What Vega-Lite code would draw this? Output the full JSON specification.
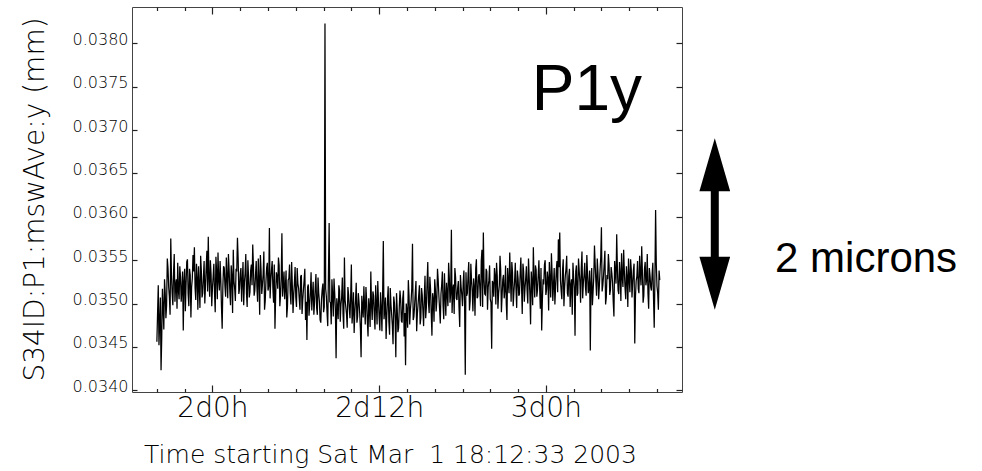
{
  "$schema": "https://vega.github.io/schema/vega-lite/v6.json",
  "autosize": "none",
  "width": 550,
  "height": 385,
  "padding": {"left": 132, "top": 7, "right": 300, "bottom": 79},
  "background": "white",
  "config": {"view": {"stroke": "#444", "strokeWidth": 1}, "axis": {"ticks": true, "tickWidth": 1.2, "tickColor": "#222"}},
  "datasets": {
    "series": [
      {"t":44.0,"v":0.03456},{"t":44.1,"v":0.03521},{"t":44.2,"v":0.03478},{"t":44.3,"v":0.03423},{"t":44.4,"v":0.03517},{"t":44.5,"v":0.03470},{"t":44.6,"v":0.03512},
      {"t":44.7,"v":0.03498},{"t":44.8,"v":0.03541},{"t":44.9,"v":0.03508},{"t":45.0,"v":0.03575},{"t":45.1,"v":0.03512},{"t":45.2,"v":0.03536},{"t":45.3,"v":0.03502},{"t":45.4,"v":0.03528},{"t":45.5,"v":0.03547},{"t":45.6,"v":0.03505},
      {"t":45.7,"v":0.03531},{"t":45.8,"v":0.03516},{"t":45.9,"v":0.03469},{"t":46.0,"v":0.03540},{"t":46.1,"v":0.03522},{"t":46.2,"v":0.03551},{"t":46.3,"v":0.03497},{"t":46.4,"v":0.03533},{"t":46.5,"v":0.03519},{"t":46.6,"v":0.03556},
      {"t":46.7,"v":0.03565},{"t":46.8,"v":0.03504},{"t":46.9,"v":0.03529},{"t":47.0,"v":0.03543},{"t":47.1,"v":0.03495},{"t":47.2,"v":0.03538},{"t":47.3,"v":0.03512},{"t":47.4,"v":0.03549},{"t":47.5,"v":0.03521},{"t":47.6,"v":0.03561},
      {"t":47.7,"v":0.03577},{"t":47.8,"v":0.03508},{"t":47.9,"v":0.03534},{"t":48.0,"v":0.03518},{"t":48.1,"v":0.03546},{"t":48.2,"v":0.03490},{"t":48.3,"v":0.03537},{"t":48.4,"v":0.03559},{"t":48.5,"v":0.03515},{"t":48.6,"v":0.03528},
      {"t":48.7,"v":0.03471},{"t":48.8,"v":0.03543},{"t":48.9,"v":0.03520},{"t":49.0,"v":0.03553},{"t":49.1,"v":0.03506},{"t":49.2,"v":0.03539},{"t":49.3,"v":0.03498},{"t":49.4,"v":0.03531},{"t":49.5,"v":0.03562},{"t":49.6,"v":0.03517},
      {"t":49.7,"v":0.03540},{"t":49.8,"v":0.03576},{"t":49.9,"v":0.03511},{"t":50.0,"v":0.03535},{"t":50.1,"v":0.03502},{"t":50.2,"v":0.03548},{"t":50.3,"v":0.03524},{"t":50.4,"v":0.03557},{"t":50.5,"v":0.03496},{"t":50.6,"v":0.03530},
      {"t":50.7,"v":0.03513},{"t":50.8,"v":0.03545},{"t":50.9,"v":0.03568},{"t":51.0,"v":0.03509},{"t":51.1,"v":0.03533},{"t":51.2,"v":0.03519},{"t":51.3,"v":0.03552},{"t":51.4,"v":0.03487},{"t":51.5,"v":0.03538},{"t":51.6,"v":0.03522},
      {"t":51.7,"v":0.03560},{"t":51.8,"v":0.03503},{"t":51.9,"v":0.03541},{"t":52.0,"v":0.03515},{"t":52.1,"v":0.03587},{"t":52.2,"v":0.03526},{"t":52.3,"v":0.03549},{"t":52.4,"v":0.03501},{"t":52.5,"v":0.03471},{"t":52.6,"v":0.03536},
      {"t":52.7,"v":0.03517},{"t":52.8,"v":0.03544},{"t":52.9,"v":0.03509},{"t":53.0,"v":0.03581},{"t":53.1,"v":0.03522},{"t":53.2,"v":0.03505},{"t":53.3,"v":0.03538},{"t":53.4,"v":0.03496},{"t":53.5,"v":0.03529},{"t":53.6,"v":0.03512},
      {"t":53.7,"v":0.03548},{"t":53.8,"v":0.03489},{"t":53.9,"v":0.03524},{"t":54.0,"v":0.03507},{"t":54.1,"v":0.03541},{"t":54.2,"v":0.03518},{"t":54.3,"v":0.03493},{"t":54.4,"v":0.03533},{"t":54.5,"v":0.03504},{"t":54.6,"v":0.03527},
      {"t":54.7,"v":0.03481},{"t":54.8,"v":0.03458},{"t":54.9,"v":0.03522},{"t":55.0,"v":0.03499},{"t":55.1,"v":0.03536},{"t":55.2,"v":0.03510},{"t":55.3,"v":0.03487},{"t":55.4,"v":0.03519},{"t":55.5,"v":0.03495},{"t":55.6,"v":0.03530},
      {"t":55.7,"v":0.03502},{"t":55.8,"v":0.03478},{"t":55.9,"v":0.03516},{"t":56.0,"v":0.03490},{"t":56.1,"v":0.03823},{"t":56.2,"v":0.03508},{"t":56.3,"v":0.03474},{"t":56.4,"v":0.03593},{"t":56.5,"v":0.03501},{"t":56.6,"v":0.03528},
      {"t":56.7,"v":0.03485},{"t":56.8,"v":0.03512},{"t":56.9,"v":0.03437},{"t":57.0,"v":0.03495},{"t":57.1,"v":0.03521},{"t":57.2,"v":0.03479},{"t":57.3,"v":0.03507},{"t":57.4,"v":0.03488},{"t":57.5,"v":0.03553},{"t":57.6,"v":0.03496},
      {"t":57.7,"v":0.03472},{"t":57.8,"v":0.03510},{"t":57.9,"v":0.03483},{"t":58.0,"v":0.03545},{"t":58.1,"v":0.03491},{"t":58.2,"v":0.03466},{"t":58.3,"v":0.03504},{"t":58.4,"v":0.03478},{"t":58.5,"v":0.03512},{"t":58.6,"v":0.03489},
      {"t":58.7,"v":0.03438},{"t":58.8,"v":0.03497},{"t":58.9,"v":0.03520},{"t":59.0,"v":0.03476},{"t":59.1,"v":0.03503},{"t":59.2,"v":0.03462},{"t":59.3,"v":0.03494},{"t":59.4,"v":0.03537},{"t":59.5,"v":0.03481},{"t":59.6,"v":0.03509},
      {"t":59.7,"v":0.03470},{"t":59.8,"v":0.03499},{"t":59.9,"v":0.03526},{"t":60.0,"v":0.03484},{"t":60.1,"v":0.03513},{"t":60.2,"v":0.03468},{"t":60.3,"v":0.03572},{"t":60.4,"v":0.03492},{"t":60.5,"v":0.03459},{"t":60.6,"v":0.03505},
      {"t":60.7,"v":0.03479},{"t":60.8,"v":0.03518},{"t":60.9,"v":0.03487},{"t":61.0,"v":0.03453},{"t":61.1,"v":0.03501},{"t":61.2,"v":0.03438},{"t":61.3,"v":0.03494},{"t":61.4,"v":0.03472},{"t":61.5,"v":0.03515},{"t":61.6,"v":0.03480},
      {"t":61.7,"v":0.03506},{"t":61.8,"v":0.03462},{"t":61.9,"v":0.03429},{"t":62.0,"v":0.03491},{"t":62.1,"v":0.03527},{"t":62.2,"v":0.03476},{"t":62.3,"v":0.03503},{"t":62.4,"v":0.03569},{"t":62.5,"v":0.03485},{"t":62.6,"v":0.03512},
      {"t":62.7,"v":0.03468},{"t":62.8,"v":0.03499},{"t":62.9,"v":0.03521},{"t":63.0,"v":0.03483},{"t":63.1,"v":0.03510},{"t":63.2,"v":0.03474},{"t":63.3,"v":0.03532},{"t":63.4,"v":0.03496},{"t":63.5,"v":0.03548},{"t":63.6,"v":0.03489},
      {"t":63.7,"v":0.03517},{"t":63.8,"v":0.03463},{"t":63.9,"v":0.03505},{"t":64.0,"v":0.03528},{"t":64.1,"v":0.03491},{"t":64.2,"v":0.03540},{"t":64.3,"v":0.03509},{"t":64.4,"v":0.03477},{"t":64.5,"v":0.03521},{"t":64.6,"v":0.03498},
      {"t":64.7,"v":0.03535},{"t":64.8,"v":0.03486},{"t":64.9,"v":0.03512},{"t":65.0,"v":0.03547},{"t":65.1,"v":0.03501},{"t":65.2,"v":0.03585},{"t":65.3,"v":0.03515},{"t":65.4,"v":0.03488},{"t":65.5,"v":0.03531},{"t":65.6,"v":0.03504},
      {"t":65.7,"v":0.03526},{"t":65.8,"v":0.03473},{"t":65.9,"v":0.03519},{"t":66.0,"v":0.03497},{"t":66.1,"v":0.03538},{"t":66.2,"v":0.03418},{"t":66.3,"v":0.03509},{"t":66.4,"v":0.03533},{"t":66.5,"v":0.03492},{"t":66.6,"v":0.03546},
      {"t":66.7,"v":0.03514},{"t":66.8,"v":0.03529},{"t":66.9,"v":0.03486},{"t":67.0,"v":0.03551},{"t":67.1,"v":0.03508},{"t":67.2,"v":0.03534},{"t":67.3,"v":0.03497},{"t":67.4,"v":0.03562},{"t":67.5,"v":0.03582},{"t":67.6,"v":0.03511},
      {"t":67.7,"v":0.03540},{"t":67.8,"v":0.03493},{"t":67.9,"v":0.03527},{"t":68.0,"v":0.03505},{"t":68.1,"v":0.03448},{"t":68.2,"v":0.03523},{"t":68.3,"v":0.03541},{"t":68.4,"v":0.03499},{"t":68.5,"v":0.03532},{"t":68.6,"v":0.03512},
      {"t":68.7,"v":0.03555},{"t":68.8,"v":0.03490},{"t":68.9,"v":0.03528},{"t":69.0,"v":0.03506},{"t":69.1,"v":0.03544},{"t":69.2,"v":0.03481},{"t":69.3,"v":0.03524},{"t":69.4,"v":0.03559},{"t":69.5,"v":0.03502},{"t":69.6,"v":0.03536},
      {"t":69.7,"v":0.03513},{"t":69.8,"v":0.03547},{"t":69.9,"v":0.03495},{"t":70.0,"v":0.03529},{"t":70.1,"v":0.03511},{"t":70.2,"v":0.03553},{"t":70.3,"v":0.03488},{"t":70.4,"v":0.03537},{"t":70.5,"v":0.03518},{"t":70.6,"v":0.03543},
      {"t":70.7,"v":0.03500},{"t":70.8,"v":0.03531},{"t":70.9,"v":0.03476},{"t":71.0,"v":0.03524},{"t":71.1,"v":0.03565},{"t":71.2,"v":0.03507},{"t":71.3,"v":0.03539},{"t":71.4,"v":0.03516},{"t":71.5,"v":0.03550},{"t":71.6,"v":0.03494},
      {"t":71.7,"v":0.03469},{"t":71.8,"v":0.03528},{"t":71.9,"v":0.03545},{"t":72.0,"v":0.03510},{"t":72.1,"v":0.03537},{"t":72.2,"v":0.03492},{"t":72.3,"v":0.03526},{"t":72.4,"v":0.03558},{"t":72.5,"v":0.03503},{"t":72.6,"v":0.03541},
      {"t":72.7,"v":0.03519},{"t":72.8,"v":0.03549},{"t":72.9,"v":0.03574},{"t":73.0,"v":0.03582},{"t":73.1,"v":0.03515},{"t":73.2,"v":0.03538},{"t":73.3,"v":0.03497},{"t":73.4,"v":0.03532},{"t":73.5,"v":0.03555},{"t":73.6,"v":0.03508},
      {"t":73.7,"v":0.03540},{"t":73.8,"v":0.03521},{"t":73.9,"v":0.03487},{"t":74.0,"v":0.03530},{"t":74.1,"v":0.03463},{"t":74.2,"v":0.03544},{"t":74.3,"v":0.03512},{"t":74.4,"v":0.03538},{"t":74.5,"v":0.03501},{"t":74.6,"v":0.03560},
      {"t":74.7,"v":0.03524},{"t":74.8,"v":0.03547},{"t":74.9,"v":0.03509},{"t":75.0,"v":0.03535},{"t":75.1,"v":0.03519},{"t":75.2,"v":0.03446},{"t":75.3,"v":0.03541},{"t":75.4,"v":0.03514},{"t":75.5,"v":0.03567},{"t":75.6,"v":0.03526},
      {"t":75.7,"v":0.03552},{"t":75.8,"v":0.03505},{"t":75.9,"v":0.03538},{"t":76.0,"v":0.03588},{"t":76.1,"v":0.03521},{"t":76.2,"v":0.03546},{"t":76.3,"v":0.03499},{"t":76.4,"v":0.03533},{"t":76.5,"v":0.03557},{"t":76.6,"v":0.03510},
      {"t":76.7,"v":0.03542},{"t":76.8,"v":0.03524},{"t":76.9,"v":0.03485},{"t":77.0,"v":0.03536},{"t":77.1,"v":0.03580},{"t":77.2,"v":0.03515},{"t":77.3,"v":0.03548},{"t":77.4,"v":0.03503},{"t":77.5,"v":0.03531},{"t":77.6,"v":0.03562},
      {"t":77.7,"v":0.03518},{"t":77.8,"v":0.03543},{"t":77.9,"v":0.03496},{"t":78.0,"v":0.03529},{"t":78.1,"v":0.03551},{"t":78.2,"v":0.03507},{"t":78.3,"v":0.03538},{"t":78.4,"v":0.03454},{"t":78.5,"v":0.03526},{"t":78.6,"v":0.03549},
      {"t":78.7,"v":0.03512},{"t":78.8,"v":0.03535},{"t":78.9,"v":0.03566},{"t":79.0,"v":0.03501},{"t":79.1,"v":0.03540},{"t":79.2,"v":0.03521},{"t":79.3,"v":0.03557},{"t":79.4,"v":0.03494},{"t":79.5,"v":0.03532},{"t":79.6,"v":0.03515},
      {"t":79.7,"v":0.03547},{"t":79.8,"v":0.03472},{"t":79.9,"v":0.03608},{"t":80.0,"v":0.03520},{"t":80.1,"v":0.03493},{"t":80.2,"v":0.03527},
      {"t":44.05,"v":0.03489},{"t":44.15,"v":0.03452},{"t":44.25,"v":0.03507},{"t":44.35,"v":0.03461},{"t":44.45,"v":0.03495},{"t":44.55,"v":0.03528},{"t":44.65,"v":0.03483},
      {"t":44.75,"v":0.03552},{"t":44.85,"v":0.03519},{"t":44.95,"v":0.03487},{"t":45.05,"v":0.03533},{"t":45.15,"v":0.03498},{"t":45.25,"v":0.03557},{"t":45.35,"v":0.03521},{"t":45.45,"v":0.03494},{"t":45.55,"v":0.03515},{"t":45.65,"v":0.03543},
      {"t":45.75,"v":0.03502},{"t":45.85,"v":0.03537},{"t":45.95,"v":0.03526},{"t":46.05,"v":0.03491},{"t":46.15,"v":0.03548},{"t":46.25,"v":0.03511},{"t":46.35,"v":0.03540},{"t":46.45,"v":0.03484},{"t":46.55,"v":0.03529},{"t":46.65,"v":0.03537},
      {"t":46.75,"v":0.03518},{"t":46.85,"v":0.03546},{"t":46.95,"v":0.03493},{"t":47.05,"v":0.03520},{"t":47.15,"v":0.03555},{"t":47.25,"v":0.03507},{"t":47.35,"v":0.03531},{"t":47.45,"v":0.03500},{"t":47.55,"v":0.03542},{"t":47.65,"v":0.03514},
      {"t":47.75,"v":0.03529},{"t":47.85,"v":0.03550},{"t":47.95,"v":0.03497},
      {"t":48.05,"v":0.03531},{"t":48.15,"v":0.03512},{"t":48.25,"v":0.03554},{"t":48.35,"v":0.03505},{"t":48.45,"v":0.03527},{"t":48.55,"v":0.03549},{"t":48.65,"v":0.03496},{"t":48.75,"v":0.03520},{"t":48.85,"v":0.03541},{"t":48.95,"v":0.03508},
      {"t":49.05,"v":0.03530},{"t":49.15,"v":0.03557},{"t":49.25,"v":0.03515},{"t":49.35,"v":0.03544},{"t":49.45,"v":0.03489},{"t":49.55,"v":0.03526},{"t":49.65,"v":0.03503},{"t":49.75,"v":0.03537},{"t":49.85,"v":0.03552},{"t":49.95,"v":0.03517},
      {"t":50.05,"v":0.03541},{"t":50.15,"v":0.03526},{"t":50.25,"v":0.03498},{"t":50.35,"v":0.03535},{"t":50.45,"v":0.03512},{"t":50.55,"v":0.03550},{"t":50.65,"v":0.03507},{"t":50.75,"v":0.03538},{"t":50.85,"v":0.03521},{"t":50.95,"v":0.03543},
      {"t":51.05,"v":0.03515},{"t":51.15,"v":0.03549},{"t":51.25,"v":0.03502},{"t":51.35,"v":0.03528},{"t":51.45,"v":0.03556},{"t":51.55,"v":0.03511},{"t":51.65,"v":0.03534},{"t":51.75,"v":0.03493},{"t":51.85,"v":0.03525},{"t":51.95,"v":0.03547},
      {"t":52.05,"v":0.03520},{"t":52.15,"v":0.03506},{"t":52.25,"v":0.03539},{"t":52.35,"v":0.03518},{"t":52.45,"v":0.03545},{"t":52.55,"v":0.03509},{"t":52.65,"v":0.03531},{"t":52.75,"v":0.03553},{"t":52.85,"v":0.03497},{"t":52.95,"v":0.03530},
      {"t":53.05,"v":0.03508},{"t":53.15,"v":0.03537},{"t":53.25,"v":0.03519},{"t":53.35,"v":0.03484},{"t":53.45,"v":0.03527},{"t":53.55,"v":0.03545},{"t":53.65,"v":0.03499},{"t":53.75,"v":0.03521},{"t":53.85,"v":0.03510},{"t":53.95,"v":0.03542},
      {"t":54.05,"v":0.03496},{"t":54.15,"v":0.03523},{"t":54.25,"v":0.03505},{"t":54.35,"v":0.03531},{"t":54.45,"v":0.03488},{"t":54.55,"v":0.03516},{"t":54.65,"v":0.03540},{"t":54.75,"v":0.03502},{"t":54.85,"v":0.03519},{"t":54.95,"v":0.03486},
      {"t":55.05,"v":0.03513},{"t":55.15,"v":0.03492},{"t":55.25,"v":0.03525},{"t":55.35,"v":0.03501},{"t":55.45,"v":0.03534},
      {"t":55.55,"v":0.03487},{"t":55.65,"v":0.03512},{"t":55.75,"v":0.03481},{"t":55.85,"v":0.03505},{"t":55.95,"v":0.03523},{"t":56.05,"v":0.03496},{"t":56.15,"v":0.03517},{"t":56.25,"v":0.03489},{"t":56.35,"v":0.03534},{"t":56.45,"v":0.03502},
      {"t":56.55,"v":0.03476},{"t":56.65,"v":0.03510},{"t":56.75,"v":0.03529},{"t":56.85,"v":0.03493},{"t":56.95,"v":0.03506},{"t":57.05,"v":0.03482},{"t":57.15,"v":0.03515},{"t":57.25,"v":0.03499},{"t":57.35,"v":0.03530},{"t":57.45,"v":0.03471},
      {"t":57.55,"v":0.03504},{"t":57.65,"v":0.03488},{"t":57.75,"v":0.03519},{"t":57.85,"v":0.03495},{"t":57.95,"v":0.03508},{"t":58.05,"v":0.03477},{"t":58.15,"v":0.03513},{"t":58.25,"v":0.03490},{"t":58.35,"v":0.03524},{"t":58.45,"v":0.03485},
      {"t":58.55,"v":0.03502},{"t":58.65,"v":0.03471},{"t":58.75,"v":0.03509},{"t":58.85,"v":0.03484},{"t":58.95,"v":0.03497},{"t":59.05,"v":0.03519},{"t":59.15,"v":0.03480},{"t":59.25,"v":0.03506},{"t":59.35,"v":0.03473},{"t":59.45,"v":0.03498},
      {"t":59.55,"v":0.03514},{"t":59.65,"v":0.03487},{"t":59.75,"v":0.03521},{"t":59.85,"v":0.03476},{"t":59.95,"v":0.03503},{"t":60.05,"v":0.03469},{"t":60.15,"v":0.03495},{"t":60.25,"v":0.03511},{"t":60.35,"v":0.03482},{"t":60.45,"v":0.03507},
      {"t":60.55,"v":0.03486},{"t":60.65,"v":0.03520},{"t":60.75,"v":0.03464},{"t":60.85,"v":0.03499},{"t":60.95,"v":0.03475},{"t":61.05,"v":0.03508},{"t":61.15,"v":0.03483},{"t":61.25,"v":0.03512},{"t":61.35,"v":0.03467},{"t":61.45,"v":0.03496},
      {"t":61.55,"v":0.03504},{"t":61.65,"v":0.03478},{"t":61.75,"v":0.03515},{"t":61.85,"v":0.03489},{"t":61.95,"v":0.03500},{"t":62.05,"v":0.03472},{"t":62.15,"v":0.03509},{"t":62.25,"v":0.03493},{"t":62.35,"v":0.03518},{"t":62.45,"v":0.03481},
      {"t":62.55,"v":0.03497},{"t":62.65,"v":0.03526},{"t":62.75,"v":0.03488},{"t":62.85,"v":0.03510},{"t":62.95,"v":0.03476},
      {"t":63.05,"v":0.03518},{"t":63.15,"v":0.03492},{"t":63.25,"v":0.03507},{"t":63.35,"v":0.03483},{"t":63.45,"v":0.03524},{"t":63.55,"v":0.03501},{"t":63.65,"v":0.03531},{"t":63.75,"v":0.03488},{"t":63.85,"v":0.03512},{"t":63.95,"v":0.03479},
      {"t":64.05,"v":0.03516},{"t":64.15,"v":0.03503},{"t":64.25,"v":0.03527},{"t":64.35,"v":0.03494},{"t":64.45,"v":0.03511},{"t":64.55,"v":0.03537},{"t":64.65,"v":0.03482},{"t":64.75,"v":0.03509},{"t":64.85,"v":0.03524},{"t":64.95,"v":0.03497},
      {"t":65.05,"v":0.03530},{"t":65.15,"v":0.03512},{"t":65.25,"v":0.03489},{"t":65.35,"v":0.03522},{"t":65.45,"v":0.03541},{"t":65.55,"v":0.03506},{"t":65.65,"v":0.03518},{"t":65.75,"v":0.03495},{"t":65.85,"v":0.03533},{"t":65.95,"v":0.03510},
      {"t":66.05,"v":0.03524},{"t":66.15,"v":0.03499},{"t":66.25,"v":0.03536},{"t":66.35,"v":0.03512},{"t":66.45,"v":0.03548},{"t":66.55,"v":0.03503},{"t":66.65,"v":0.03527},{"t":66.75,"v":0.03491},{"t":66.85,"v":0.03519},{"t":66.95,"v":0.03540},
      {"t":67.05,"v":0.03506},{"t":67.15,"v":0.03531},{"t":67.25,"v":0.03517},{"t":67.35,"v":0.03549},{"t":67.45,"v":0.03496},{"t":67.55,"v":0.03528},{"t":67.65,"v":0.03510},{"t":67.75,"v":0.03537},{"t":67.85,"v":0.03519},{"t":67.95,"v":0.03544},
      {"t":68.05,"v":0.03501},{"t":68.15,"v":0.03526},{"t":68.25,"v":0.03508},{"t":68.35,"v":0.03532},{"t":68.45,"v":0.03547},{"t":68.55,"v":0.03494},{"t":68.65,"v":0.03521},{"t":68.75,"v":0.03539},{"t":68.85,"v":0.03509},{"t":68.95,"v":0.03533},
      {"t":69.05,"v":0.03515},{"t":69.15,"v":0.03500},{"t":69.25,"v":0.03541},{"t":69.35,"v":0.03512},{"t":69.45,"v":0.03529},{"t":69.55,"v":0.03548},{"t":69.65,"v":0.03497},{"t":69.75,"v":0.03526},{"t":69.85,"v":0.03517},{"t":69.95,"v":0.03538},
      {"t":70.05,"v":0.03509},{"t":70.15,"v":0.03534},{"t":70.25,"v":0.03520},{"t":70.35,"v":0.03546},{"t":70.45,"v":0.03502},{"t":70.55,"v":0.03529},{"t":70.65,"v":0.03515},{"t":70.75,"v":0.03552},{"t":70.85,"v":0.03511},{"t":70.95,"v":0.03537},
      {"t":71.05,"v":0.03498},{"t":71.15,"v":0.03526},{"t":71.25,"v":0.03544},{"t":71.35,"v":0.03508},{"t":71.45,"v":0.03533},{"t":71.55,"v":0.03519},{"t":71.65,"v":0.03541},{"t":71.75,"v":0.03504},{"t":71.85,"v":0.03522},{"t":71.95,"v":0.03550},
      {"t":72.05,"v":0.03516},{"t":72.15,"v":0.03529},{"t":72.25,"v":0.03548},{"t":72.35,"v":0.03507},{"t":72.45,"v":0.03535},{"t":72.55,"v":0.03521},{"t":72.65,"v":0.03499},{"t":72.75,"v":0.03538},{"t":72.85,"v":0.03513},{"t":72.95,"v":0.03542},
      {"t":73.05,"v":0.03527},{"t":73.15,"v":0.03505},{"t":73.25,"v":0.03551},{"t":73.35,"v":0.03518},{"t":73.45,"v":0.03540},{"t":73.55,"v":0.03512},{"t":73.65,"v":0.03531},{"t":73.75,"v":0.03496},{"t":73.85,"v":0.03528},{"t":73.95,"v":0.03547},
      {"t":74.05,"v":0.03518},{"t":74.15,"v":0.03537},{"t":74.25,"v":0.03509},{"t":74.35,"v":0.03552},{"t":74.45,"v":0.03525},{"t":74.55,"v":0.03541},{"t":74.65,"v":0.03506},{"t":74.75,"v":0.03533},{"t":74.85,"v":0.03519},{"t":74.95,"v":0.03556},
      {"t":75.05,"v":0.03512},{"t":75.15,"v":0.03538},{"t":75.25,"v":0.03524},{"t":75.35,"v":0.03498},{"t":75.45,"v":0.03531},{"t":75.55,"v":0.03545},{"t":75.65,"v":0.03509},{"t":75.75,"v":0.03536},{"t":75.85,"v":0.03520},{"t":75.95,"v":0.03553},
      {"t":76.05,"v":0.03514},{"t":76.15,"v":0.03532},{"t":76.25,"v":0.03561},{"t":76.35,"v":0.03507},{"t":76.45,"v":0.03528},{"t":76.55,"v":0.03544},{"t":76.65,"v":0.03516},{"t":76.75,"v":0.03535},{"t":76.85,"v":0.03502},{"t":76.95,"v":0.03549},
      {"t":77.05,"v":0.03523},{"t":77.15,"v":0.03540},{"t":77.25,"v":0.03511},{"t":77.35,"v":0.03534},{"t":77.45,"v":0.03558},{"t":77.55,"v":0.03519},{"t":77.65,"v":0.03537},{"t":77.75,"v":0.03505},{"t":77.85,"v":0.03530},{"t":77.95,"v":0.03552},
      {"t":78.05,"v":0.03513},{"t":78.15,"v":0.03539},{"t":78.25,"v":0.03524},{"t":78.35,"v":0.03546},{"t":78.45,"v":0.03508},{"t":78.55,"v":0.03531},{"t":78.65,"v":0.03517},{"t":78.75,"v":0.03555},{"t":78.85,"v":0.03521},{"t":78.95,"v":0.03536},
      {"t":79.05,"v":0.03509},{"t":79.15,"v":0.03548},{"t":79.25,"v":0.03527},{"t":79.35,"v":0.03512},{"t":79.45,"v":0.03541},{"t":79.55,"v":0.03519},{"t":79.65,"v":0.03534},{"t":79.75,"v":0.03506},{"t":79.85,"v":0.03529},{"t":79.95,"v":0.03545},
      {"t":80.05,"v":0.03512},{"t":80.15,"v":0.03538}
    ],
    "ghost": [{"t": 60, "v": 0.036}],
    "labels": [
      {"t": 70.99, "v": 0.037232, "text": "P1y", "kind": "big"},
      {"t": 88.5, "v": 0.035367, "text": "2 microns", "kind": "note"}
    ],
    "arrow": [
      {"t": 84.16, "v": 0.036601, "dir": "up"},
      {"t": 84.16, "v": 0.035234, "dir": "down"}
    ],
    "shaft": [{"t": 84.16, "v1": 0.03645, "v2": 0.03538}]
  },
  "resolve": {"axis": {"x": "independent", "y": "independent"}},
  "layer": [
    {
      "data": {"name": "series"},
      "mark": {"type": "line", "color": "black", "strokeWidth": 1.25, "interpolate": "linear"},
      "encoding": {
        "x": {"field": "t", "type": "quantitative",
          "scale": {"domain": [42.209, 81.8], "nice": false, "zero": false},
          "axis": {"orient": "bottom", "values": [48, 60, 72], "tickSize": -7, "domain": false, "grid": false,
            "labelExpr": "floor(datum.value / 24) + 'd' + (datum.value % 24) + 'h'",
            "labelFont": "DejaVu Sans", "labelFontSize": 28, "labelFontWeight": 200, "labelColor": "#000", "labelPadding": 9, "labelFlush": false, "labelOverlap": false,
            "title": "Time starting Sat Mar \u00a01 18:12:33 2003", "titleFont": "DejaVu Sans", "titleFontSize": 25, "titleFontWeight": 200, "titleColor": "#000",
            "titleX": 258, "titleY": 70, "titleBaseline": "alphabetic", "titleAlign": "center", "titleAnchor": null}},
        "y": {"field": "v", "type": "quantitative",
          "scale": {"domain": [0.03398, 0.03842], "nice": false, "zero": false},
          "axis": {"orient": "left", "values": [0.034, 0.0345, 0.035, 0.0355, 0.036, 0.0365, 0.037, 0.0375, 0.038], "tickSize": -5, "domain": false, "grid": false,
            "format": ".4f", "labelFont": "DejaVu Sans", "labelFontSize": 16, "labelFontWeight": 200, "labelColor": "#000", "labelPadding": 9, "labelBaseline": "alphabetic", "labelOffset": 1, "labelFlush": false, "labelOverlap": false,
            "title": "S34ID:P1:mswAve:y (mm)", "titleFont": "DejaVu Sans", "titleFontSize": 28, "titleFontWeight": 200, "titleColor": "#000",
            "titleX": -89, "titleY": 192, "titleAngle": -90, "titleBaseline": "alphabetic", "titleAlign": "center", "titleAnchor": null}}
      }
    },
    {
      "data": {"name": "ghost"},
      "mark": {"type": "point", "opacity": 0},
      "encoding": {
        "x": {"field": "t", "type": "quantitative", "scale": {"domain": [42.209, 81.8], "nice": false, "zero": false},
          "axis": {"orient": "top", "values": [44,46,50,52,54,56,58,62,64,66,68,70,74,76,78,80], "tickSize": -3.5, "labels": false, "domain": false, "grid": false, "title": null}},
        "y": {"field": "v", "type": "quantitative", "scale": {"domain": [0.03398, 0.03842], "nice": false, "zero": false},
          "axis": {"orient": "right", "values": [0.034, 0.0345, 0.035, 0.0355, 0.036, 0.0365, 0.037, 0.0375, 0.038], "tickSize": -6, "labels": false, "domain": false, "grid": false, "title": null}}
      }
    },
    {
      "data": {"name": "ghost"},
      "mark": {"type": "point", "opacity": 0},
      "encoding": {
        "x": {"field": "t", "type": "quantitative", "scale": {"domain": [42.209, 81.8], "nice": false, "zero": false},
          "axis": {"orient": "bottom", "values": [44,46,50,52,54,56,58,62,64,66,68,70,74,76,78,80], "tickSize": -3.5, "labels": false, "domain": false, "grid": false, "title": null}},
        "y": {"field": "v", "type": "quantitative", "scale": {"domain": [0.03398, 0.03842], "nice": false, "zero": false}, "axis": null}
      }
    },
    {
      "data": {"name": "ghost"},
      "mark": {"type": "point", "opacity": 0},
      "encoding": {
        "x": {"field": "t", "type": "quantitative", "scale": {"domain": [42.209, 81.8], "nice": false, "zero": false},
          "axis": {"orient": "top", "values": [48, 60, 72], "tickSize": -7, "labels": false, "domain": false, "grid": false, "title": null}},
        "y": {"field": "v", "type": "quantitative", "scale": {"domain": [0.03398, 0.03842], "nice": false, "zero": false}, "axis": null}
      }
    },
    {
      "data": {"name": "labels"},
      "transform": [{"filter": "datum.kind === 'big'"}],
      "mark": {"type": "text", "font": "Liberation Sans", "fontSize": 64, "align": "left", "baseline": "alphabetic", "color": "black"},
      "encoding": {
        "x": {"field": "t", "type": "quantitative", "scale": {"domain": [42.209, 81.8], "nice": false, "zero": false}, "axis": null},
        "y": {"field": "v", "type": "quantitative", "scale": {"domain": [0.03398, 0.03842], "nice": false, "zero": false}, "axis": null},
        "text": {"field": "text"}
      }
    },
    {
      "data": {"name": "labels"},
      "transform": [{"filter": "datum.kind === 'note'"}],
      "mark": {"type": "text", "font": "Liberation Sans", "fontSize": 42, "align": "left", "baseline": "alphabetic", "color": "black"},
      "encoding": {
        "x": {"field": "t", "type": "quantitative", "scale": {"domain": [42.209, 81.8], "nice": false, "zero": false}, "axis": null},
        "y": {"field": "v", "type": "quantitative", "scale": {"domain": [0.03398, 0.03842], "nice": false, "zero": false}, "axis": null},
        "text": {"field": "text"}
      }
    },
    {
      "data": {"name": "shaft"},
      "mark": {"type": "rule", "color": "black", "strokeWidth": 8, "strokeCap": "butt"},
      "encoding": {
        "x": {"field": "t", "type": "quantitative", "scale": {"domain": [42.209, 81.8], "nice": false, "zero": false}, "axis": null},
        "y": {"field": "v1", "type": "quantitative", "scale": {"domain": [0.03398, 0.03842], "nice": false, "zero": false}, "axis": null},
        "y2": {"field": "v2"}
      }
    },
    {
      "data": {"name": "arrow"},
      "transform": [{"filter": "datum.dir === 'up'"}],
      "mark": {"type": "point", "filled": true, "opacity": 1, "color": "black", "strokeWidth": 0, "size": 2809, "shape": "M0,-1L0.58,1L-0.58,1Z"},
      "encoding": {
        "x": {"field": "t", "type": "quantitative", "scale": {"domain": [42.209, 81.8], "nice": false, "zero": false}, "axis": null},
        "y": {"field": "v", "type": "quantitative", "scale": {"domain": [0.03398, 0.03842], "nice": false, "zero": false}, "axis": null}
      }
    },
    {
      "data": {"name": "arrow"},
      "transform": [{"filter": "datum.dir === 'down'"}],
      "mark": {"type": "point", "filled": true, "opacity": 1, "color": "black", "strokeWidth": 0, "size": 2809, "shape": "M0,1L0.58,-1L-0.58,-1Z"},
      "encoding": {
        "x": {"field": "t", "type": "quantitative", "scale": {"domain": [42.209, 81.8], "nice": false, "zero": false}, "axis": null},
        "y": {"field": "v", "type": "quantitative", "scale": {"domain": [0.03398, 0.03842], "nice": false, "zero": false}, "axis": null}
      }
    }
  ]
}
